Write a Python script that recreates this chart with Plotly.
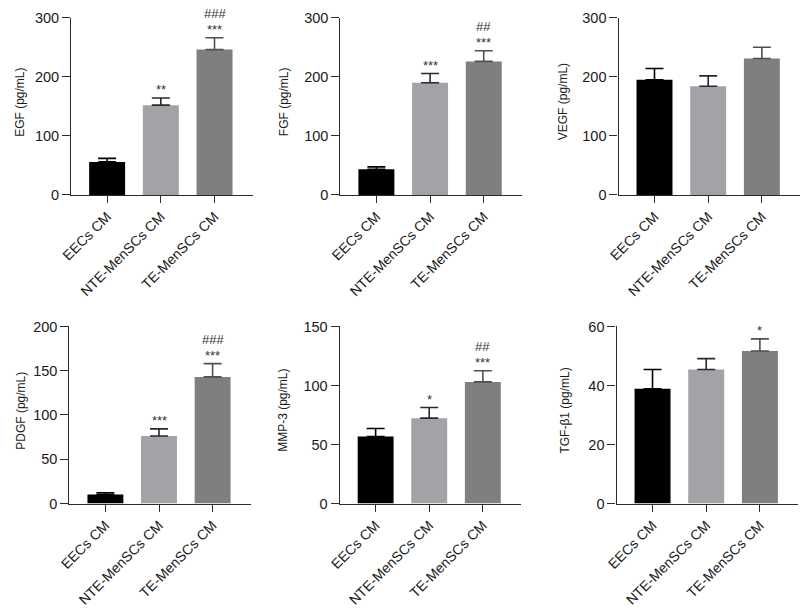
import plotly.graph_objects as go

# ---------------- data ----------------
categories = ["EECs CM", "NTE-MenSCs CM", "TE-MenSCs CM"]

titles = ["EGF (pg/mL)", "FGF (pg/mL)", "VEGF (pg/mL)",
          "PDGF (pg/mL)", "MMP-3 (pg/mL)", "TGF-β1 (pg/mL)"]

egf_mean = [56, 152, 246]
egf_err = [6, 12, 20]
fgf_mean = [43.5, 190, 226]
fgf_err = [4, 15.5, 18]
vegf_mean = [195, 184, 231]
vegf_err = [19, 17.5, 19]
pdgf_mean = [10.2, 76.3, 143]
pdgf_err = [2, 8, 15]
mmp3_mean = [56.7, 72.3, 103]
mmp3_err = [6.8, 9, 9.4]
tgf_mean = [38.9, 45.4, 51.7]
tgf_err = [6.5, 3.7, 4.1]

y_max = [300, 300, 300, 200, 150, 60]
y_dtick = [100, 100, 100, 50, 50, 20]

stars = [["", "**", "***"], ["", "***", "***"], ["", "", ""],
         ["", "***", "***"], ["", "*", "***"], ["", "", "*"]]
hashes = [["", "", "###"], ["", "", "##"], ["", "", ""],
          ["", "", "###"], ["", "", "##"], ["", "", ""]]

means = [egf_mean, fgf_mean, vegf_mean, pdgf_mean, mmp3_mean, tgf_mean]
errs = [egf_err, fgf_err, vegf_err, pdgf_err, mmp3_err, tgf_err]

# ---------------- style / layout ----------------
W, H = 800, 608
bar_colors = ["#000000", "#a3a2a7", "#7f7f7f"]
err_colors = ["#000000", "#2a2a2a", "#505050"]
FONT = "Liberation Sans, Arial, Helvetica, sans-serif"

# pixel boxes of each panel: (x_left, x_right, y_top, y_bottom)
boxes = [(61, 245, 10, 193), (334, 518, 10, 193), (616, 800, 10, 193),
         (59.3, 243, 328.7, 511.5), (333.3, 517, 328.7, 511.5), (614, 798, 328.7, 511.5)]
title_x = [9, 277, 560, 9.3, 275, 561.7]

fig = go.Figure()
layout = dict(
    width=W, height=H,
    margin=dict(l=0, r=0, t=0, b=0),
    paper_bgcolor="white", plot_bgcolor="white",
    showlegend=False,
    font=dict(family=FONT, color="#1a1a1a"),
)
annotations = []

for i in range(6):
    xl, xr, yt, yb = boxes[i]
    xa = "x" if i == 0 else f"x{i+1}"
    ya = "y" if i == 0 else f"y{i+1}"
    xkey = "xaxis" if i == 0 else f"xaxis{i+1}"
    ykey = "yaxis" if i == 0 else f"yaxis{i+1}"
    for j, cat in enumerate(categories):
        fig.add_trace(go.Bar(
            x=[cat], y=[means[i][j]], xaxis=xa, yaxis=ya,
            marker=dict(color=bar_colors[j], line=dict(width=0)),
            width=0.67,
            error_y=dict(type="data", symmetric=False, array=[errs[i][j]],
                         arrayminus=[0], color=err_colors[j], thickness=1.6, width=9),
            hoverinfo="skip",
        ))
        top = means[i][j] + errs[i][j]
        if stars[i][j]:
            annotations.append(dict(
                x=cat, y=top, xref=xa, yref=ya, text=stars[i][j], showarrow=False,
                yanchor="bottom", yshift=-1, font=dict(size=13, color="#333333", family=FONT)))
        if hashes[i][j]:
            annotations.append(dict(
                x=cat, y=top, xref=xa, yref=ya, text=hashes[i][j], showarrow=False,
                yanchor="bottom", yshift=15, font=dict(size=13, color="#333333", family=FONT)))
    layout[xkey] = dict(
        domain=[xl / W, xr / W], anchor=ya, type="category",
        range=[-0.67, 2.71], showline=True, linecolor="#2b2b2b", linewidth=1.3,
        ticks="outside", ticklen=7, tickwidth=1.3, tickcolor="#2b2b2b",
        tickangle=-45, tickfont=dict(size=14, family=FONT, color="#1a1a1a"),
        showgrid=False, zeroline=False, fixedrange=True,
    )
    layout[ykey] = dict(
        domain=[1 - yb / H, 1 - yt / H], anchor=xa,
        range=[0, y_max[i]], dtick=y_dtick[i], tick0=0,
        showline=True, linecolor="#2b2b2b", linewidth=1.3,
        ticks="outside", ticklen=8, tickwidth=1.3, tickcolor="#2b2b2b",
        tickfont=dict(size=14.5, family=FONT, color="#1a1a1a"),
        showgrid=False, zeroline=False, fixedrange=True,
    )
    annotations.append(dict(
        x=title_x[i] / W, y=1 - ((yt + yb) / 2 - 4.5) / H, xref="paper", yref="paper",
        text=titles[i], textangle=-90, showarrow=False,
        xanchor="center", yanchor="middle",
        font=dict(size=12, family=FONT, color="#1a1a1a")))

layout["annotations"] = annotations
fig.update_layout(**layout)
fig.write_html(
    "out.html",
    config={"displayModeBar": False},
    post_script="document.body.style.margin='0';document.body.style.overflow='hidden';",
)
